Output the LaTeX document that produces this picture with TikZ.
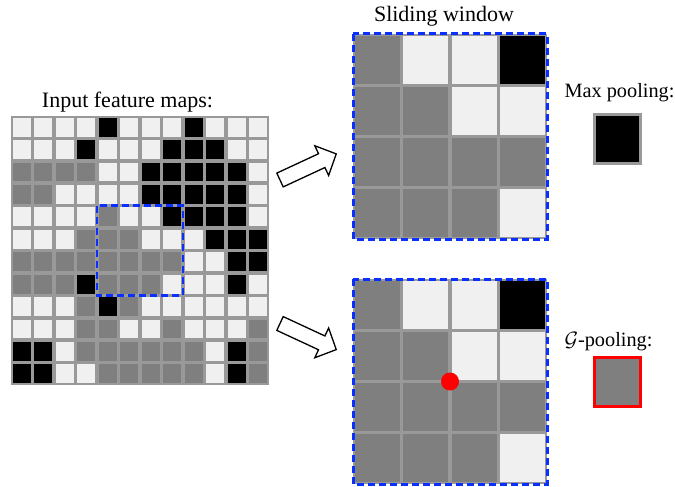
\documentclass[tikz,border=0pt]{standalone}
\usepackage{fontspec}
\setmainfont{Liberation Serif}
\newfontfamily\lblfont{Liberation Serif}
\definecolor{cW}{HTML}{F0F0F0}
\definecolor{cG}{HTML}{7F7F7F}
\definecolor{cB}{HTML}{000000}
\definecolor{cL}{HTML}{999999}
\definecolor{cBlue}{HTML}{0A30FF}
\definecolor{cRed}{HTML}{FF0000}
\tikzset{
  bluedash/.style={draw=cBlue, line width=3pt, dash pattern=on 7pt off 4pt},
  lbl/.style={anchor=base, inner sep=0pt, font=\lblfont\fontsize{22}{26}\selectfont},
  lblsm/.style={anchor=base, inner sep=0pt, font=\lblfont\fontsize{20.3}{24}\selectfont},
  blockarrow/.style={draw=black, fill=white, line width=1.3pt, line join=miter},
}
\begin{document}
\begin{tikzpicture}[x=1pt,y=-1pt]
\useasboundingbox (0,0) rectangle (675,487);

% ---- input feature map 12x12
\fill[cL] (11,116) rectangle (269,385);
\foreach \row [count=\r from 0] in {
 {cW,cW,cW,cW,cB,cW,cW,cW,cB,cW,cW,cW},
 {cW,cW,cW,cB,cW,cW,cW,cB,cB,cB,cW,cW},
 {cG,cG,cG,cG,cW,cW,cB,cB,cB,cB,cB,cW},
 {cG,cG,cW,cW,cW,cW,cB,cB,cB,cB,cB,cW},
 {cW,cW,cW,cW,cG,cW,cW,cB,cB,cB,cB,cW},
 {cW,cW,cW,cG,cG,cG,cW,cW,cW,cB,cB,cB},
 {cG,cG,cG,cG,cG,cG,cG,cG,cW,cW,cB,cB},
 {cG,cG,cG,cB,cG,cG,cG,cW,cW,cW,cB,cW},
 {cW,cW,cW,cG,cB,cG,cW,cW,cW,cW,cW,cW},
 {cW,cW,cW,cG,cG,cW,cW,cG,cW,cW,cW,cG},
 {cB,cB,cW,cG,cG,cG,cG,cG,cG,cW,cB,cG},
 {cB,cB,cW,cW,cG,cG,cG,cG,cG,cW,cB,cG}}{
  \foreach \c [count=\k from 0] in \row {
    \fill[\c] ({11+\k*21.5+1.8},{116+\r*22.417+1.8}) rectangle ({11+(\k+1)*21.5-1.8},{116+(\r+1)*22.417-1.8});
  }
}
\draw[bluedash, line width=2.6pt] (97,205.7) rectangle (183,295.3);

% ---- sliding windows (4x4)
\foreach \oy in {34,279}{
  \fill[cL] (353,\oy) rectangle (547,{\oy+205});
  \foreach \row [count=\r from 0] in {
   {cG,cW,cW,cB},
   {cG,cG,cW,cW},
   {cG,cG,cG,cG},
   {cG,cG,cG,cW}}{
    \foreach \c [count=\k from 0] in \row {
      \fill[\c] ({353+\k*48.5+1.6},{\oy+\r*51.25+1.6}) rectangle ({353+(\k+1)*48.5-1.6},{\oy+(\r+1)*51.25-1.6});
    }
  }
  \draw[bluedash] (353,\oy) rectangle (547,{\oy+205});
}

% ---- red dot at window centre
\node[circle, fill=cRed, minimum size=18pt, inner sep=0pt] (dot) at (450,381.5) {};

% ---- pooled outputs
\node[draw=cL, fill=cB, line width=3pt, minimum width=46pt, minimum height=49pt, inner sep=0pt] (maxbox) at (617.5,139) {};
\node[draw=cRed, fill=cG, line width=3pt, minimum width=46pt, minimum height=49pt, inner sep=0pt] (gbox) at (617.5,382) {};

% ---- labels
\node[lbl] (lblin) at (127.5,107) {Input feature maps:};
\node[lbl] (lblslide) at (444,22) {Sliding window};
\node[lblsm] (lblmax) at (619.5,98) {Max pooling:};
\node[lblsm] (lblg) at (608.5,346) {$\mathcal{G}$-pooling:};

% ---- block arrows
\coordinate (a1) at (280,180);
\coordinate (a2) at (280,323.5);
\begin{scope}[shift={(a1)}, rotate=24.9]
  \draw[blockarrow] (0,-7.6) -- (46,-7.6) -- (46,-16.4) -- (62,0) -- (46,16.4) -- (46,7.6) -- (0,7.6) -- cycle;
\end{scope}
\begin{scope}[shift={(a2)}, rotate=-24.9]
  \draw[blockarrow] (0,-7.6) -- (46,-7.6) -- (46,-16.4) -- (62,0) -- (46,16.4) -- (46,7.6) -- (0,7.6) -- cycle;
\end{scope}
\end{tikzpicture}
\end{document}
